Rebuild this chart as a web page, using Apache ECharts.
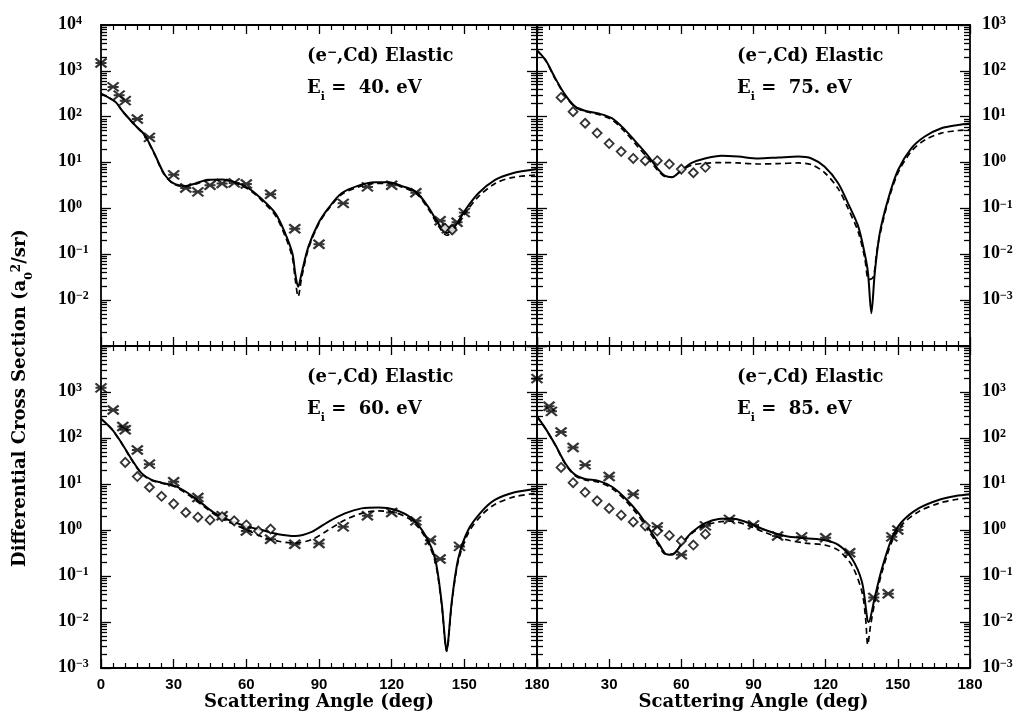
<!DOCTYPE html>
<html>
<head>
<meta charset="utf-8">
<script src="https://cdn.jsdelivr.net/npm/echarts@6/dist/echarts.min.js"></script>
<style>
  html, body { margin: 0; padding: 0; background: #fff; }
  #chart { width: 1021px; height: 714px; }
</style>
</head>
<body>
<div id="chart"></div>
<script>
// ---- data: [scattering angle (deg), DCS (a0^2/sr)] ----
// 40 eV
var tlSolid = [[0,320],[6,210],[9,130],[14,66],[18,40],[22,16],[26,5.8],[30,3.5],[35,3.1],[39,3.5],[44,4.2],[50,4.3],[55,3.8],[61,2.75],[66,1.66],[72,0.78],[76,0.29],[79,0.105],[80.2,0.038],[81.4,0.0195],[82.8,0.038],[85.6,0.145],[89.7,0.47],[93.8,1.0],[99.3,2.14],[106,3.1],[113,3.7],[119,3.7],[124,3.1],[130,2.3],[135,1.1],[139.3,0.47],[142.7,0.29],[146,0.40],[150.3,0.91],[155.8,2.14],[162.7,4.2],[169.6,5.8],[180,7.2]];
var tlDashed = [[0,320],[6,208],[9,128],[14,65],[18,39],[22,15.5],[26,5.6],[30,3.4],[35,3.0],[39,3.4],[44,4.1],[50,4.2],[55,3.7],[61,2.6],[66,1.55],[72,0.7],[76,0.25],[79,0.085],[80.2,0.028],[81.4,0.012],[82.8,0.03],[85.6,0.13],[89.7,0.44],[93.8,0.95],[99.3,2.0],[106,2.9],[113,3.5],[119,3.5],[124,2.95],[130,2.15],[135,1.0],[139.3,0.42],[142.7,0.26],[146,0.35],[150.3,0.78],[155.8,1.8],[162.7,3.5],[169.6,4.7],[180,5.4]];
var tlCross = [[0,1480],[5,447],[7.5,295],[10,224],[15,89],[20,35.5],[30,5.4],[35,2.8],[40,2.3],[45,3.2],[50,3.5],[55,3.6],[60,3.4],[70,2.04],[80,0.36],[90,0.166],[100,1.29],[110,2.95],[120,3.2],[130,2.2],[140,0.54],[143,0.36],[147,0.5],[150,0.81]];
var tlDiamond = [[142,0.37],[145,0.34]];

// 75 eV
var trSolid = [[0,280],[3.5,174],[7.6,69],[11.8,29.5],[15.9,16.6],[20,13.5],[25.6,11.7],[31.1,9.3],[36.7,5.1],[42.3,2.4],[46.4,1.35],[50.6,0.69],[53.3,0.51],[56,0.48],[60.2,0.69],[64.3,0.98],[69.8,1.23],[76.8,1.41],[83.7,1.35],[92,1.23],[100.3,1.29],[108.6,1.35],[114.1,1.23],[119.6,0.81],[125.2,0.355],[129.3,0.129],[133.5,0.041],[136.2,0.0105],[137.6,0.0039],[139,0.00052],[140.4,0.0039],[142.5,0.029],[145.9,0.155],[150.1,0.69],[155.6,2.04],[161.2,3.7],[168.1,5.6],[175,6.6],[180,7.1]];
var trDashed = [[0,280],[3.5,170],[7.6,66],[11.8,28],[15.9,16],[20,13],[25.6,11.2],[31.1,8.6],[36.7,4.6],[42.3,2.1],[46.4,1.2],[50.6,0.64],[53.3,0.49],[56,0.48],[60.2,0.68],[64.3,0.88],[69.8,0.97],[76.8,1.0],[83.7,0.98],[92,0.93],[100.3,0.95],[108.6,0.98],[114.1,0.9],[119.6,0.6],[125.2,0.27],[129.3,0.1],[133.5,0.031],[136.2,0.0085],[137.9,0.0028],[139.8,0.0032],[141.2,0.011],[142.5,0.026],[145.9,0.14],[150.1,0.6],[155.6,1.75],[161.2,3.1],[168.1,4.4],[175,5.0],[180,5.2]];
var trCross = [];
var trDiamond = [[10,26.3],[15,12.9],[20,7.2],[25,4.4],[30,2.6],[35,1.74],[40,1.23],[45,1.1],[50,1.1],[55,0.93],[60,0.72],[65,0.6],[70,0.79]];

// 60 eV
var blSolid = [[0,263],[4.4,158],[8.5,78],[12.7,34],[16.8,17],[20.9,12.3],[25,10.7],[30.5,9.1],[36,6.3],[41.6,3.8],[47.1,2.3],[52.6,1.66],[59.4,1.23],[66.3,1.0],[73.2,0.81],[80.1,0.74],[87,0.91],[93.8,1.51],[100.7,2.3],[107.6,2.95],[114.5,3.1],[121.4,2.75],[128.3,1.78],[133.8,0.78],[137.9,0.24],[140.6,0.0275],[142.7,0.00245],[144.8,0.0275],[147.5,0.24],[151.6,1.0],[157.1,2.5],[162.6,4.5],[170.8,6.6],[180,7.8]];
var blDashed = [[0,263],[4.4,156],[8.5,77],[12.7,33],[16.8,16.5],[20.9,12],[25,10.4],[30.5,8.7],[36,5.8],[41.6,3.5],[47.1,2.15],[52.6,1.5],[59.4,1.05],[66.3,0.72],[73.2,0.57],[80.1,0.52],[87,0.62],[93.8,1.0],[100.7,1.65],[107.6,2.3],[114.5,2.6],[121.4,2.4],[128.3,1.6],[133.8,0.7],[137.9,0.21],[140.6,0.025],[142.7,0.0023],[144.8,0.025],[147.5,0.21],[151.6,0.85],[157.1,2.1],[162.6,3.6],[170.8,5.3],[180,6.3]];
var blCross = [[0,1230],[5,407],[9,178],[10,151],[15,55],[20,27],[30,11.2],[40,5.1],[50,2.04],[60,0.95],[70,0.63],[80,0.49],[90,0.51],[100,1.17],[110,2.04],[120,2.4],[130,1.58],[136,0.6],[140,0.234],[148,0.44]];
var blDiamond = [[10,29.5],[15,14.5],[20,8.5],[25,5.4],[30,3.7],[35,2.4],[40,1.9],[45,1.66],[50,1.95],[55,1.58],[60,1.29],[65,0.95],[70,1.05]];

// 85 eV
var brSolid = [[0,295],[3.5,162],[7.6,71],[11.8,28],[15.9,15.8],[20,12.9],[25.6,11.7],[31.2,8.7],[36.7,4.9],[42.3,2.3],[46.4,1.1],[50.6,0.51],[53.3,0.31],[56.1,0.29],[60.3,0.51],[64.4,0.89],[69.9,1.41],[75.5,1.74],[81.1,1.78],[86.6,1.51],[94.9,1.0],[103.2,0.74],[111.5,0.66],[119.8,0.6],[125.4,0.47],[130.9,0.24],[135.1,0.074],[137.9,0.010],[140.6,0.038],[143.4,0.145],[147.5,0.66],[151.7,1.51],[158.6,2.95],[166.9,4.5],[174,5.5],[180,6.0]];
var brDashed = [[0,295],[3.5,160],[7.6,70],[11.8,27],[15.9,15],[20,12.3],[25.6,11],[31.2,8],[36.7,4.4],[42.3,2.0],[46.4,0.95],[50.6,0.46],[53.3,0.3],[56.1,0.3],[60.3,0.5],[64.4,0.85],[69.9,1.25],[75.5,1.5],[81.1,1.55],[86.6,1.32],[94.9,0.88],[103.2,0.62],[111.5,0.52],[119.8,0.47],[125.4,0.36],[130.9,0.17],[135.1,0.045],[136.6,0.012],[137.5,0.0032],[138.6,0.008],[140.6,0.03],[143.4,0.12],[147.5,0.55],[151.7,1.3],[158.6,2.5],[166.9,3.8],[174,4.6],[180,5.0]];
var brCross = [[0,1950],[5,490],[6,380],[10,135],[15,62],[20,26],[30,14.5],[40,6.0],[50,1.17],[60,0.29],[70,1.23],[80,1.7],[90,1.29],[100,0.74],[110,0.71],[120,0.68],[130,0.32],[140,0.034],[146,0.041],[147.5,0.71],[150,1.0]];
var brDiamond = [[10,22.9],[15,10.7],[20,6.6],[25,4.3],[30,2.95],[35,2.1],[40,1.5],[45,1.23],[50,0.95],[55,0.76],[60,0.58],[65,0.47],[70,0.81]];

// decade exponents shown as tick labels
var tlLabels = [-2,-1,0,1,2,3,4];
var trLabels = [-3,-2,-1,0,1,2,3];
var blLabels = [-3,-2,-1,0,1,2,3];
var brLabels = [-3,-2,-1,0,1,2,3];
var energies = ['40.', '75.', '60.', '85.'];

// ---- layout ----
var panels = [
  { grid: {left:101, top:25, width:436, height:321}, lo:-3, hi:4, side:'left',  labels:tlLabels, bottom:false,
    solid:tlSolid, dashed:tlDashed, cross:tlCross, diamond:tlDiamond, tx:307, ty:57 },
  { grid: {left:537, top:25, width:433, height:321}, lo:-4, hi:3, side:'right', labels:trLabels, bottom:false,
    solid:trSolid, dashed:trDashed, cross:trCross, diamond:trDiamond, tx:737, ty:57 },
  { grid: {left:101, top:346, width:436, height:322}, lo:-3, hi:4, side:'left', labels:blLabels, bottom:true,
    solid:blSolid, dashed:blDashed, cross:blCross, diamond:blDiamond, tx:307, ty:378 },
  { grid: {left:537, top:346, width:433, height:322}, lo:-3, hi:4, side:'right', labels:brLabels, bottom:true,
    solid:brSolid, dashed:brDashed, cross:brCross, diamond:brDiamond, tx:737, ty:378 }
];

var serif = 'DejaVu Serif';
var expRich = {
  b: { fontFamily:'Liberation Serif', fontWeight:'bold', fontSize:18, lineHeight:20, color:'#000', verticalAlign:'top' },
  s: { fontFamily:'Liberation Serif', fontWeight:'bold', fontSize:12, lineHeight:11, color:'#000', verticalAlign:'top' }
};
function fmtExp(v) {
  var e = Math.round(v);
  return '{b|10}{s|' + (e < 0 ? '\u2212' + (-e) : e) + '}';
}

var crossPath = 'path://M0,0L10,8M0,8L10,0M0,4L10,4';

var grids = [], xAxes = [], yAxes = [], series = [];

function decoAxis(p, g, pos, major, showLabel) {
  var ticks = [];
  if (major) {
    for (var k = p.lo; k <= p.hi; k++) ticks.push(k);
  } else {
    for (var k = p.lo; k < p.hi; k++)
      for (var m = 2; m <= 9; m++) ticks.push(k + Math.log10(m));
  }
  return {
    type: 'value', gridIndex: g, position: pos, offset: 0, min: p.lo, max: p.hi,
    axisLine: { show: major, onZero: false, lineStyle: { color: '#000', width: 1.8 } },
    axisTick: { show: true, inside: true, length: major ? 10 : 6, customValues: ticks,
                lineStyle: { color: '#000', width: 1.3 } },
    axisLabel: { show: showLabel, customValues: p.labels, margin: pos === 'left' ? 43 : 12,
                 align: 'left', formatter: fmtExp, rich: expRich },
    splitLine: { show: false }
  };
}

panels.forEach(function (p, g) {
  grids.push(p.grid);

  // x axes: bottom (data) and top (ticks only)
  ['bottom', 'top'].forEach(function (pos) {
    var showLab = p.bottom && pos === 'bottom';
    xAxes.push({
      type: 'value', gridIndex: g, position: pos, min: 0, max: 180, interval: 30,
      axisLine: { onZero: false, lineStyle: { color: '#000', width: 1.8 } },
      axisTick: { inside: true, length: 9, lineStyle: { color: '#000', width: 1.3 } },
      minorTick: { show: true, splitNumber: 6, length: 5, lineStyle: { color: '#000', width: 1.2 } },
      axisLabel: {
        show: showLab, margin: 9, color: '#000',
        fontFamily: 'Liberation Sans', fontWeight: 'bold', fontSize: 15,
        formatter: function (v) {
          if (g === 2 && v === 180) return '';
          if (g === 3 && v === 0) return '180';
          return String(v);
        }
      },
      name: showLab ? 'Scattering Angle (deg)' : '',
      nameLocation: 'middle', nameGap: 22,
      nameTextStyle: { fontFamily: serif, fontWeight: 'bold', fontSize: 18, color: '#000' },
      splitLine: { show: false }
    });
  });

  // y axes: hidden log axis for the data, then tick/label decoration on both sides
  yAxes.push({ type: 'log', logBase: 10, gridIndex: g, min: Math.pow(10, p.lo), max: Math.pow(10, p.hi), show: false });
  yAxes.push(decoAxis(p, g, 'left', true, p.side === 'left'));
  yAxes.push(decoAxis(p, g, 'left', false, false));
  yAxes.push(decoAxis(p, g, 'right', true, p.side === 'right'));
  yAxes.push(decoAxis(p, g, 'right', false, false));

  var xi = g * 2, yi = g * 5;
  series.push({
    type: 'line', xAxisIndex: xi, yAxisIndex: yi, data: p.dashed, symbol: 'none', smooth: 0.3,
    lineStyle: { color: '#000', width: 1.7, type: [6, 4] }, silent: true
  });
  series.push({
    type: 'line', xAxisIndex: xi, yAxisIndex: yi, data: p.solid, symbol: 'none', smooth: 0.3,
    lineStyle: { color: '#000', width: 2 }, silent: true
  });
  if (p.cross.length) series.push({
    type: 'scatter', xAxisIndex: xi, yAxisIndex: yi, data: p.cross, symbol: crossPath, symbolSize: [11, 9],
    itemStyle: { color: 'none', borderColor: '#000', borderWidth: 2.2 }, silent: true, z: 5
  });
  if (p.diamond.length) series.push({
    type: 'scatter', xAxisIndex: xi, yAxisIndex: yi, data: p.diamond, symbol: 'diamond', symbolSize: 9,
    itemStyle: { color: '#fff', borderColor: '#000', borderWidth: 1.8 }, silent: true, z: 5
  });
});

var noteRich = {
  t:   { fontFamily: serif, fontWeight: 'bold', fontSize: 18, lineHeight: 20, color: '#000', verticalAlign: 'top' },
  sup: { fontFamily: serif, fontWeight: 'bold', fontSize: 12, lineHeight: 11, color: '#000', verticalAlign: 'top' },
  sub: { fontFamily: serif, fontWeight: 'bold', fontSize: 11, lineHeight: 11, color: '#000', verticalAlign: 'top', padding: [13, 0, 0, 0] }
};

var graphics = [];
panels.forEach(function (p, g) {
  graphics.push({ type: 'text', x: p.tx, y: p.ty,
    style: { text: '{t|(e}{sup|\u2212}{t|,Cd) Elastic}', rich: noteRich, align: 'left', verticalAlign: 'middle' } });
  graphics.push({ type: 'text', x: p.tx, y: p.ty + 32,
    style: { text: '{t|E}{sub|i}{t| =  ' + energies[g] + ' eV}', rich: noteRich, align: 'left', verticalAlign: 'middle' } });
});
graphics.push({ type: 'text', x: 21, y: 398, rotation: Math.PI / 2,
  style: { text: '{t|Differential Cross Section (a}{sub|0}{sup|2}{t|/sr)}', rich: noteRich, align: 'center', verticalAlign: 'middle' } });

var chart = echarts.init(document.getElementById('chart'));
chart.setOption({
  animation: false,
  backgroundColor: '#fff',
  grid: grids,
  xAxis: xAxes,
  yAxis: yAxes,
  series: series,
  graphic: graphics
});
</script>
</body>
</html>
